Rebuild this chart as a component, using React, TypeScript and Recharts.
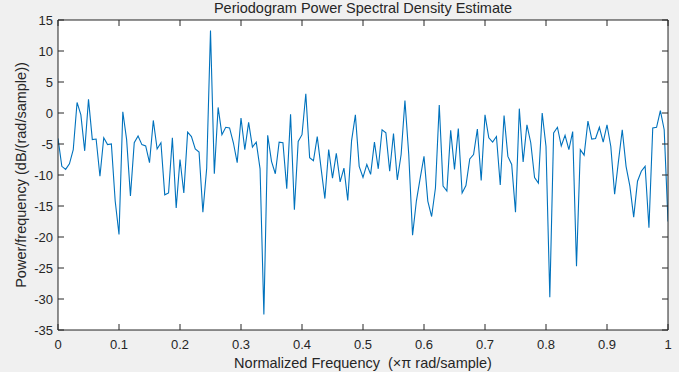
import { LineChart, Line, XAxis, YAxis, CartesianGrid } from 'recharts';

// normalized frequency ticks (x pi rad/sample)
const freqTicks = [0, 0.1, 0.2, 0.3, 0.4, 0.5, 0.6, 0.7, 0.8, 0.9, 1];
const dbTicks = [-35, -30, -25, -20, -15, -10, -5, 0, 5, 10, 15];

// PSD estimate in dB/(rad/sample), one value per frequency bin (161 bins)
const powerDb = [
  -4.1, -8.6, -9.1, -8.2, -5.9, 1.7, -0.3, -6.1, 2.2, -4.3,
  -4.2, -10.2, -4.0, -5.1, -5.0, -14.2, -19.6, 0.2, -4.3, -13.4,
  -4.8, -3.7, -5.1, -5.3, -8.0, -1.2, -5.8, -4.8, -13.2, -12.9,
  -4.0, -15.3, -7.5, -12.9, -3.1, -3.8, -5.8, -6.3, -16.0, -8.9,
  13.3, -9.8, 0.9, -3.5, -2.3, -2.4, -4.8, -8.0, -0.8, -5.9,
  -1.5, -5.5, -4.7, -9.0, -32.5, -3.6, -7.8, -9.8, -4.7, -4.8,
  -12.2, -0.2, -15.6, -4.6, -3.5, 3.1, -7.2, -7.7, -3.8, -8.9,
  -13.8, -5.9, -10.5, -6.5, -11.1, -8.9, -14.1, -4.5, -0.3, -8.6,
  -10.4, -8.3, -9.9, -4.7, -9.0, -2.7, -3.2, -9.4, -3.3, -10.8,
  -6.7, 2.0, -6.7, -19.7, -14.2, -10.5, -7.0, -14.2, -16.7, -12.1,
  1.3, -11.8, -12.6, -2.8, -9.1, -2.5, -12.9, -11.7, -7.4, -6.7,
  -2.6, -10.9, -0.3, -4.0, -4.7, -3.8, -11.6, -0.4, -7.0, -8.3,
  -16.0, 0.7, -7.9, -1.9, -4.8, -10.4, -11.3, 0.0, -5.4, -29.7,
  -3.2, -2.3, -5.3, -3.6, -5.9, -3.0, -24.7, -5.9, -6.8, -1.3,
  -4.2, -4.1, -2.3, -4.7, -1.9, -5.4, -13.1, -7.8, -2.7, -8.6,
  -11.8, -16.8, -11.0, -9.4, -8.6, -18.5, -2.4, -2.3, 0.4, -2.7,
  -17.5,
];

const lastBin = powerDb.length - 1;
const chartData = powerDb.map((p, i) => ({ f: i / lastBin, p }));

const FONT = '"Liberation Sans", Arial, Helvetica, sans-serif';
const AXIS_COLOR = '#262626';
const tickStyle = { fontSize: 13, fill: AXIS_COLOR, fontFamily: FONT };
const noLabel = () => <g />;

export default function App() {
  return (
    <div
      style={{
        position: 'absolute',
        left: 0,
        top: 0,
        width: 679,
        height: 372,
        background: '#f0f0f0',
        fontFamily: FONT,
        color: AXIS_COLOR,
        overflow: 'hidden',
      }}
    >
      <LineChart
        width={679}
        height={372}
        data={chartData}
        margin={{ top: 0, right: 0, bottom: 0, left: 0 }}
      >
        <rect x={58} y={20} width={610} height={310} fill="#ffffff" />
        <CartesianGrid stroke="#dedede" strokeWidth={1} fill="#ffffff" />
        <XAxis
          dataKey="f"
          type="number"
          domain={[0, 1]}
          ticks={freqTicks}
          height={42}
          tickSize={-6}
          tickMargin={16}
          tick={tickStyle}
          stroke={AXIS_COLOR}
          interval={0}
          allowDataOverflow
        />
        <XAxis
          xAxisId="top"
          orientation="top"
          dataKey="f"
          type="number"
          domain={[0, 1]}
          ticks={freqTicks}
          height={20}
          tickSize={-6}
          tick={noLabel}
          stroke={AXIS_COLOR}
          interval={0}
          allowDataOverflow
        />
        <YAxis
          type="number"
          domain={[-35, 15]}
          ticks={dbTicks}
          width={58}
          tickSize={-6}
          tickMargin={11}
          tick={tickStyle}
          stroke={AXIS_COLOR}
          interval={0}
          allowDataOverflow
        />
        <YAxis
          yAxisId="right"
          orientation="right"
          type="number"
          domain={[-35, 15]}
          ticks={dbTicks}
          width={11}
          tickSize={-6}
          tick={noLabel}
          stroke={AXIS_COLOR}
          interval={0}
          allowDataOverflow
        />
        <Line
          type="linear"
          dataKey="p"
          stroke="#0072bd"
          strokeWidth={1.1}
          dot={false}
          activeDot={false}
          isAnimationActive={false}
        />
      </LineChart>

      <div
        style={{
          position: 'absolute',
          left: 58,
          width: 610,
          top: 0,
          textAlign: 'center',
          fontSize: 14.5,
          lineHeight: '16px',
          whiteSpace: 'nowrap',
        }}
      >
        Periodogram Power Spectral Density Estimate
      </div>

      <div
        style={{
          position: 'absolute',
          left: 58,
          width: 610,
          top: 355,
          textAlign: 'center',
          fontSize: 14.5,
          lineHeight: '16px',
          whiteSpace: 'pre',
        }}
      >
        {'Normalized Frequency  (\u00d7\u03c0 rad/sample)'}
      </div>

      <div
        style={{
          position: 'absolute',
          left: 21,
          top: 175,
          fontSize: 14.5,
          lineHeight: '16px',
          whiteSpace: 'nowrap',
          transform: 'translate(-50%, -50%) rotate(-90deg)',
        }}
      >
        Power/frequency (dB/(rad/sample))
      </div>
    </div>
  );
}
